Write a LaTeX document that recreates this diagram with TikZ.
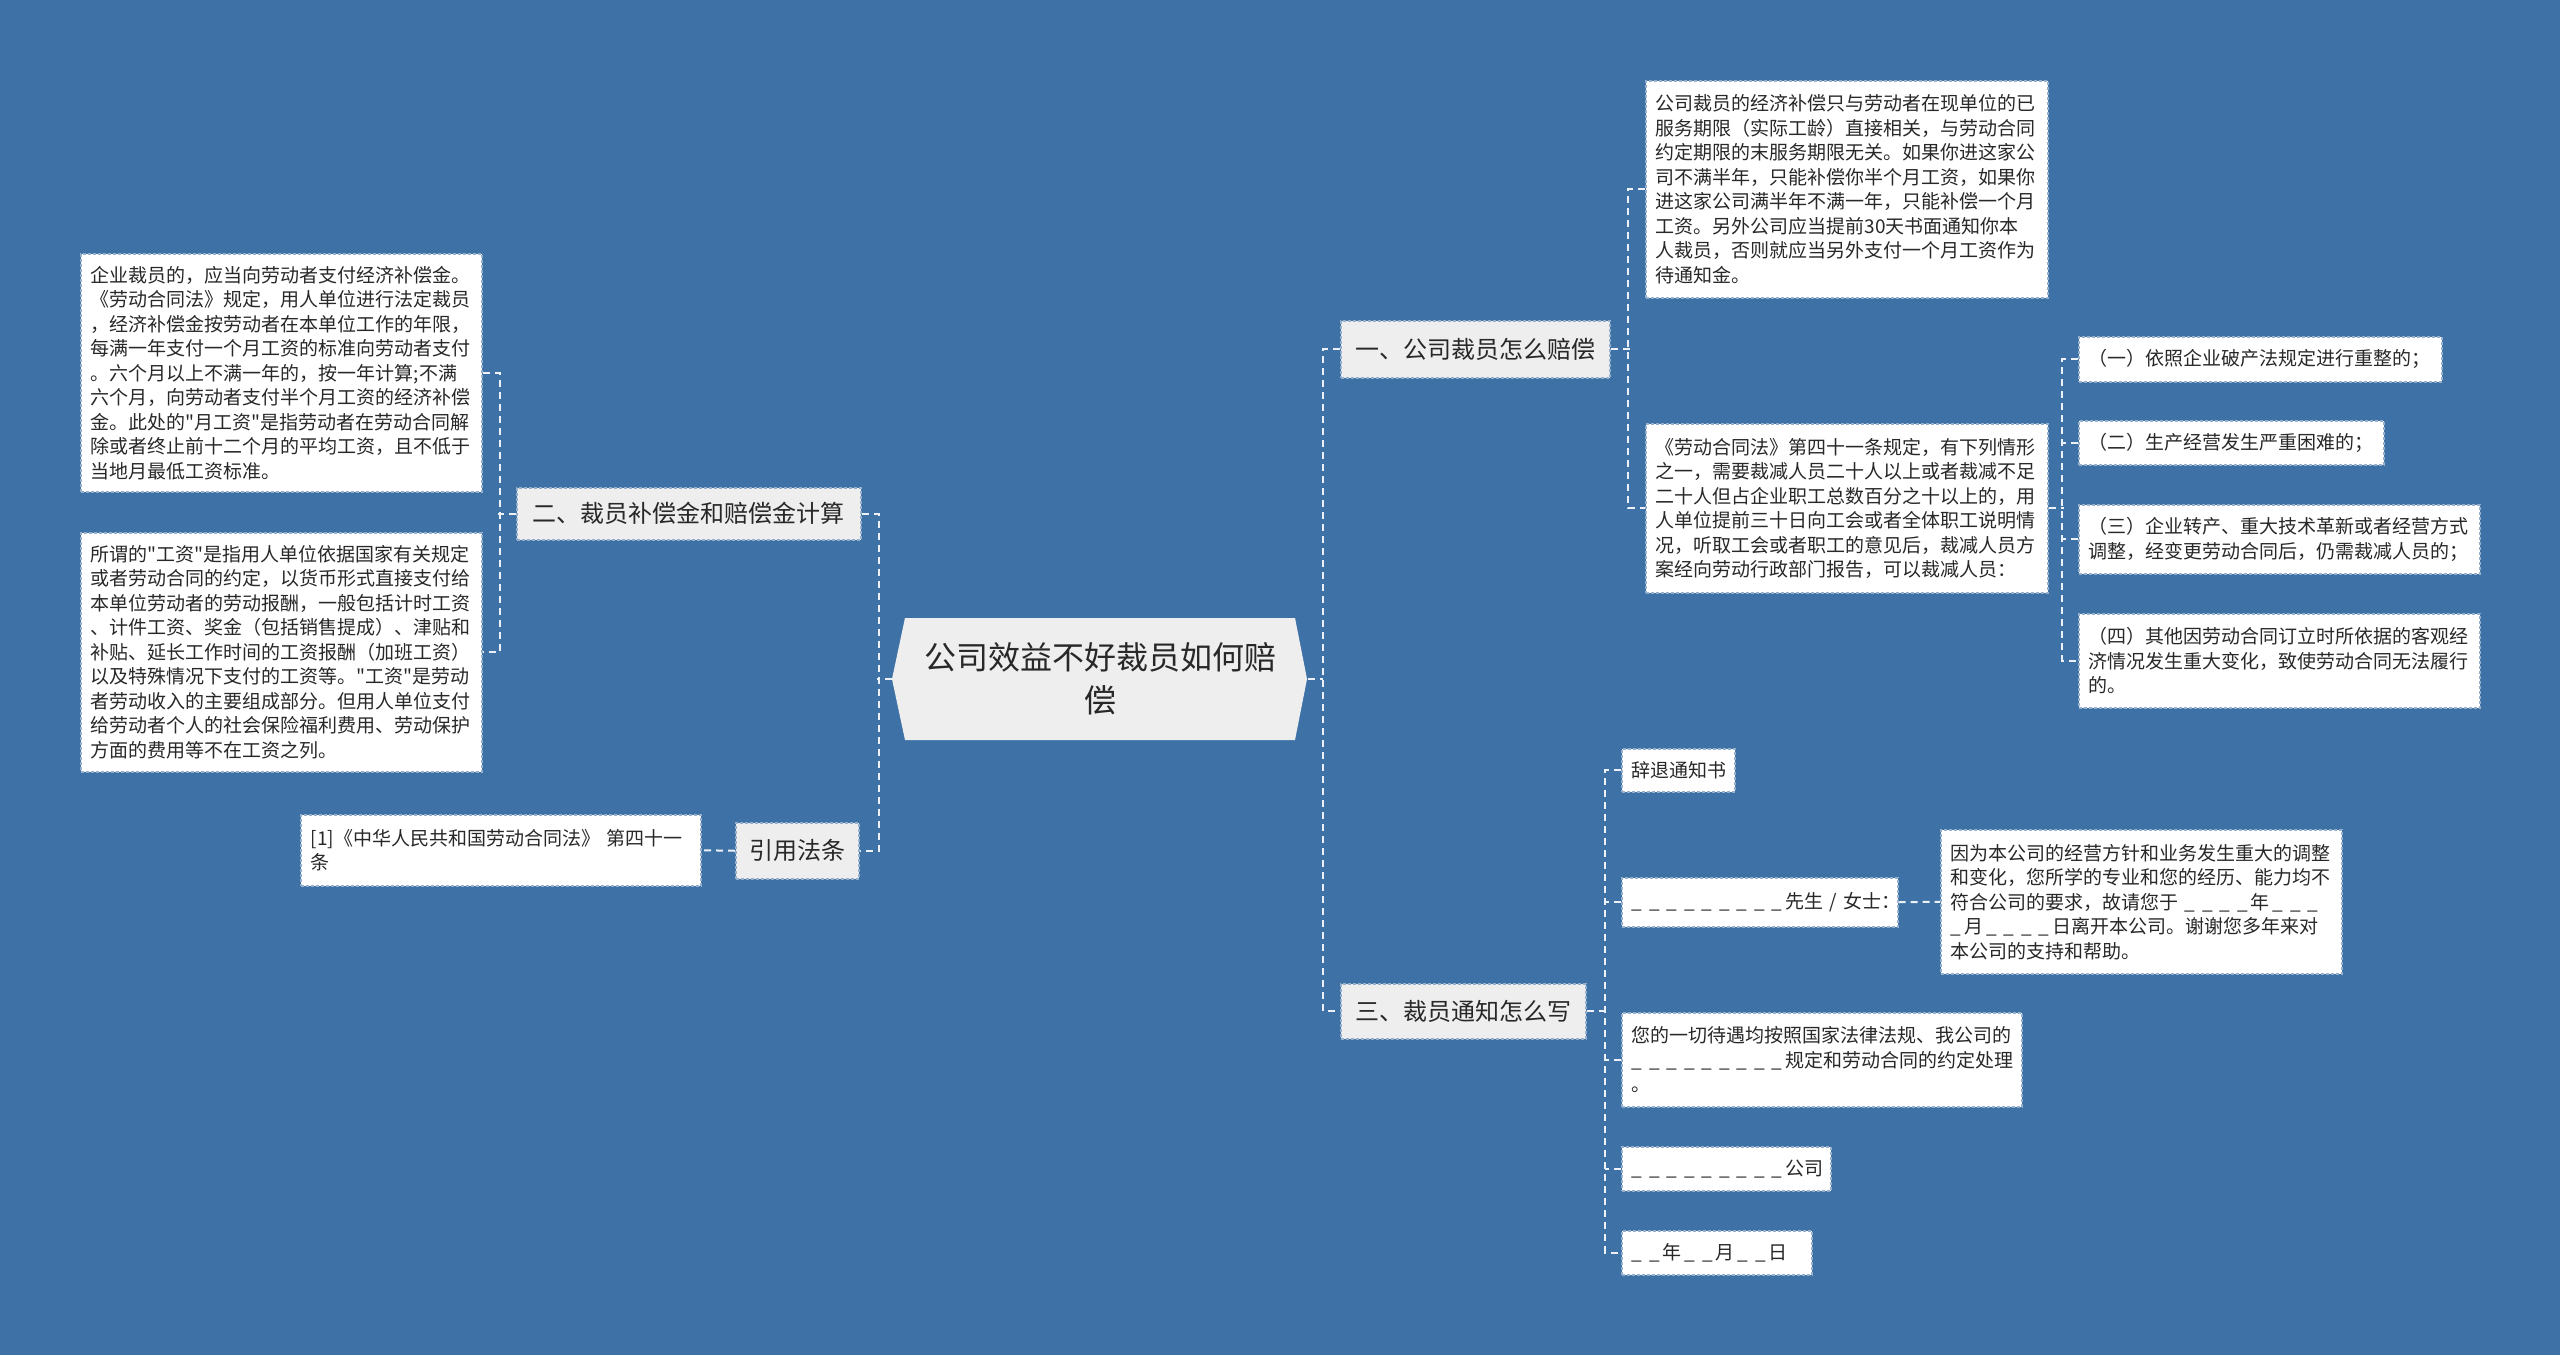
\documentclass[tikz,border=0pt]{standalone}
\usepackage{fontspec}
\newfontfamily\cjk{Noto Sans CJK SC}
\definecolor{bg}{RGB}{62,114,166}
\definecolor{txt}{RGB}{40,40,40}
\definecolor{lvl}{RGB}{238,238,238}
\definecolor{bord}{RGB}{150,175,205}
\definecolor{conn}{RGB}{236,241,247}
\newcommand\ub{\makebox[17.5pt][l]{\_}}
\newcommand\ue{\makebox[13.5pt][l]{\_}}
\newcommand\sk{\kern3pt\relax}
\begin{document}
\begin{tikzpicture}[x=1pt,y=-1pt,
  leaf/.style={draw=bord, fill=white, line width=1.5pt, dash pattern=on 3pt off 2pt,
    anchor=north west, inner xsep=10pt, inner ysep=0pt, align=left, text=txt,
    font=\cjk\fontsize{19pt}{24.5pt}\selectfont},
  lvlbox/.style={draw=bord, fill=lvl, line width=1.5pt, dash pattern=on 3pt off 2pt,
    anchor=north west, inner sep=0pt, align=center, text=txt,
    font=\cjk\fontsize{24pt}{30pt}\selectfont},
  conn/.style={draw=conn, line width=2pt, dash pattern=on 7pt off 5pt}
]
\useasboundingbox (0,0) rectangle (2560,1355);
\fill[bg] (0,0) rectangle (2560,1355);

% central topic
\fill[lvl] (892,679) -- (905,618) -- (1295,618) -- (1307,679) -- (1295,740) -- (905,740) -- cycle;
\node[font=\cjk\fontsize{32pt}{43pt}\selectfont, text=txt, align=center,
  minimum width=390pt, minimum height=122pt, inner sep=0pt] (root) at (1100,679)
  {公司效益不好裁员如何赔\\偿};

% level 1
\node[lvlbox, minimum width=269pt, minimum height=57pt] (b1) at (1340,320) {一、公司裁员怎么赔偿};
\node[lvlbox, minimum width=245pt, minimum height=55pt] (b3) at (1340,983) {三、裁员通知怎么写};
\node[lvlbox, minimum width=344pt, minimum height=52pt] (b2) at (516,487) {二、裁员补偿金和赔偿金计算};
\node[lvlbox, minimum width=123pt, minimum height=56pt] (b4) at (735,822) {引用法条};

% branch 1 children
\node[leaf, text width=382pt, minimum height=217pt] (c1) at (1645,80)
{公司裁员的经济补偿只与劳动者在现单位的已\\
服务期限（实际工龄）直接相关，与劳动合同\\
约定期限的末服务期限无关。如果你进这家公\\
司不满半年，只能补偿你半个月工资，如果你\\
进这家公司满半年不满一年，只能补偿一个月\\
工资。另外公司应当提前30天书面通知你本\\
人裁员，否则就应当另外支付一个月工资作为\\
待通知金。};
\node[leaf, text width=382pt, minimum height=169pt] (c2) at (1645,423)
{《劳动合同法》第四十一条规定，有下列情形\\
之一，需要裁减人员二十人以上或者裁减不足\\
二十人但占企业职工总数百分之十以上的，用\\
人单位提前三十日向工会或者全体职工说明情\\
况，听取工会或者职工的意见后，裁减人员方\\
案经向劳动行政部门报告，可以裁减人员：};

\node[leaf, text width=343pt, minimum height=45pt] (k1) at (2078,336) {（一）依照企业破产法规定进行重整的；};
\node[leaf, text width=285pt, minimum height=44pt] (k2) at (2078,420) {（二）生产经营发生严重困难的；};
\node[leaf, text width=381pt, minimum height=69pt] (k3) at (2078,504)
{（三）企业转产、重大技术革新或者经营方式\\调整，经变更劳动合同后，仍需裁减人员的；};
\node[leaf, text width=381pt, minimum height=94pt] (k4) at (2078,613)
{（四）其他因劳动合同订立时所依据的客观经\\济情况发生重大变化，致使劳动合同无法履行\\的。};

% branch 3 children
\node[leaf, text width=93pt, minimum height=43pt] (n1) at (1621,748) {辞退通知书};
\node[leaf, text width=256pt, minimum height=49pt] (n2) at (1621,877)
{\ub\ub\ub\ub\ub\ub\ub\ub\ue 先生~/~女士：};
\node[leaf, text width=381pt, minimum height=144pt] (m) at (1940,829)
{因为本公司的经营方针和业务发生重大的调整\\
和变化，您所学的专业和您的经历、能力均不\\
符合公司的要求，故请您于\kern6pt\ub\ub\ub\ue 年\sk\ub\ub\_\\
\ue 月\sk\ub\ub\ub\ue 日离开本公司。谢谢您多年来对\\
本公司的支持和帮助。};
\node[leaf, text width=380pt, minimum height=94pt] (n3) at (1621,1012)
{您的一切待遇均按照国家法律法规、我公司的\\
\ub\ub\ub\ub\ub\ub\ub\ub\ue 规定和劳动合同的约定处理\\
。};
\node[leaf, text width=189pt, minimum height=44pt] (n4) at (1621,1146)
{\ub\ub\ub\ub\ub\ub\ub\ub\ue 公司};
\node[leaf, text width=170pt, minimum height=44pt] (n5) at (1621,1230)
{\ub\ue 年\sk\ub\ue 月\sk\ub\ue 日};

% branch 2 children
\node[leaf, text width=381pt, minimum height=238pt] (a1) at (80,253)
{企业裁员的，应当向劳动者支付经济补偿金。\\
《劳动合同法》规定，用人单位进行法定裁员\\
，经济补偿金按劳动者在本单位工作的年限，\\
每满一年支付一个月工资的标准向劳动者支付\\
。六个月以上不满一年的，按一年计算;不满\\
六个月，向劳动者支付半个月工资的经济补偿\\
金。此处的"月工资"是指劳动者在劳动合同解\\
除或者终止前十二个月的平均工资，且不低于\\
当地月最低工资标准。};
\node[leaf, text width=381pt, minimum height=239pt] (a2) at (80,532)
{所谓的"工资"是指用人单位依据国家有关规定\\
或者劳动合同的约定，以货币形式直接支付给\\
本单位劳动者的劳动报酬，一般包括计时工资\\
、计件工资、奖金（包括销售提成）、津贴和\\
补贴、延长工作时间的工资报酬（加班工资）\\
以及特殊情况下支付的工资等。"工资"是劳动\\
者劳动收入的主要组成部分。但用人单位支付\\
给劳动者个人的社会保险福利费用、劳动保护\\
方面的费用等不在工资之列。};

% branch 4 child
\node[leaf, text width=380pt, minimum height=71pt] (r) at (300,814)
{[1]《中华人民共和国劳动合同法》~第四十一\\条};

% connectors: right of root
\draw[conn] ([xshift=13pt]root.east) -- ++(15,0);
\draw[conn] (b1.west) -- ++(-17,0) |- (b3.west);
% branch 1
\draw[conn] (b1.east) -- ++(19,0);
\draw[conn] (c1.west) -- ++(-17,0) |- (c2.west);
% c2 children
\draw[conn] (c2.east) -- ++(15,0);
\draw[conn] (k1.west) -- ++(-16,0) |- (k4.west);
\draw[conn] (k2.west) -- ++(-16,0);
\draw[conn] (k3.west) -- ++(-16,0);
% branch 3
\draw[conn] (b3.east) -- ++(20,0);
\draw[conn] (n1.west) -- ++(-16,0) |- (n5.west);
\draw[conn] (n2.west) -- ++(-16,0);
\draw[conn] (n3.west) -- ++(-16,0);
\draw[conn] (n4.west) -- ++(-16,0);
\draw[conn] (n2.east) -- (m.west);
% left of root
\draw[conn] ([xshift=-13pt]root.west) -- ++(-15,0);
\draw[conn] (b2.east) -- ++(17,0) |- (b4.east);
% branch 2
\draw[conn] (b2.west) -- ++(-18,0);
\draw[conn] (a1.east) -- ++(17,0) |- (a2.east);
% branch 4
\draw[conn] (b4.west) -- (r.east);
\end{tikzpicture}
\end{document}
